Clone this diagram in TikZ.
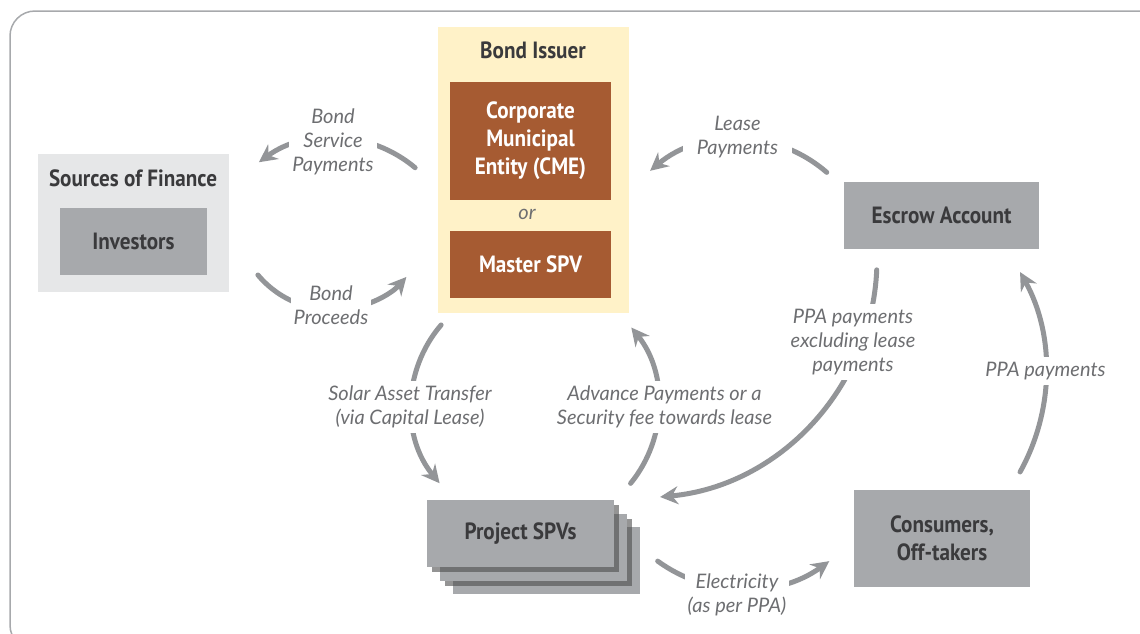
\documentclass[tikz,border=0pt]{standalone}
\usepackage{fontspec}
\setmainfont{Lato}
\newfontfamily\headfont[FakeStretch=0.9]{PT Sans}
\usetikzlibrary{arrows.meta,shadows}
\definecolor{framegray}{HTML}{A7A9AC}
\definecolor{lightbox}{HTML}{E6E7E8}
\definecolor{midbox}{HTML}{A7A9AC}
\definecolor{darktext}{HTML}{3A3A3C}
\definecolor{issuerfill}{HTML}{FFF2C8}
\definecolor{cmebrown}{HTML}{A65B32}
\definecolor{arrowgray}{HTML}{939598}
\definecolor{labelgray}{HTML}{6D6E71}
\begin{document}
\begin{tikzpicture}[x=1pt,y=1pt,
  headtxt/.style={text=darktext,font=\headfont\bfseries\fontsize{23.5}{28}\selectfont,align=center},
  box/.style={headtxt,fill=midbox,inner sep=0pt},
  entity/.style={box,fill=cmebrown,text=white},
  spvshadow/.style={drop shadow={shadow xshift=5pt,shadow yshift=-5pt,fill=black!70,opacity=0.6}},
  lbl/.style={fill=white,inner xsep=3pt,inner ysep=5pt,text=labelgray,font=\itshape\fontsize{20}{24}\selectfont,align=center},
  flow/.style={draw=arrowgray,line width=5pt,line cap=round,-{Stealth[length=18pt,width=18pt,inset=6pt]}}]
\useasboundingbox (0,0) rectangle (1140,-633);
\clip (0,0) rectangle (1140,-633);
\draw[framegray,line width=1.5pt,rounded corners=25pt] (10,-11) rectangle (1165,-650);
% boxes
\node[fill=lightbox,minimum width=191pt,minimum height=138pt] (finance) at (133.5,-223) {};
\node[headtxt] (financetitle) at (133,-178) {Sources of Finance};
\node[box,minimum width=147pt,minimum height=67pt] (investors) at (133.5,-241.5) {Investors};
\node[fill=issuerfill,minimum width=191pt,minimum height=286pt] (issuer) at (533.5,-170) {};
\node[headtxt] (issuertitle) at (533,-50) {Bond Issuer};
\node[entity,minimum width=161pt,minimum height=118pt] (cme) at (530.5,-141) {Corporate\\Municipal\\Entity (CME)};
\node[text=labelgray,font=\itshape\fontsize{20}{24}\selectfont] (or) at (527,-214) {or};
\node[entity,minimum width=161pt,minimum height=67pt] (master) at (530.5,-264.5) {Master SPV};
\node[box,minimum width=195pt,minimum height=67pt] (escrow) at (941.5,-215.5) {Escrow Account};
\node[box,minimum width=187pt,minimum height=67pt] (spvback) at (546.5,-560.5) {};
\node[box,spvshadow,minimum width=187pt,minimum height=67pt] (spvmid) at (533.5,-547) {};
\node[box,spvshadow,minimum width=187pt,minimum height=67pt] (spv) at (520.5,-533.5) {Project SPVs};
\node[box,minimum width=176pt,minimum height=97pt] (consumers) at (942,-538.5) {Consumers,\\Off-takers};
% arc centres
\coordinate (cbsp) at (333.5,-265);
\coordinate (cbpr) at (333,-212);
\coordinate (clease) at (737.5,-275);
\coordinate (cspv) at (534.5,-405);
\coordinate (cppaex) at (638,-259);
\coordinate (cppa) at (840.5,-372);
\coordinate (celec) at (743.5,-443);
\foreach \c/\r/\a/\b in {cbsp/127/50/126,cbpr/98/220/318.5,clease/136/49/130,cspv/123/139.4/219.5,cspv/124/-39.2/38.7,cppaex/239/-2.6/-84.7,cppa/205.5/-29.1/29.1,celec/146/234/306}
  {\draw[flow] (\c) ++(\a:\r) arc[start angle=\a,end angle=\b,radius=\r];}
% labels
\node[lbl] (bsp) at (333,-142) {Bond\\Service\\Payments};
\node[lbl] (bpr) at (331,-305.5) {Bond\\Proceeds};
\node[lbl,inner xsep=14pt] (lease) at (737.5,-137) {Lease\\Payments};
\node[lbl] (solar) at (410,-407) {Solar Asset Transfer\\(via Capital Lease)};
\node[lbl] (adv) at (664.5,-407) {Advance Payments or a\\Security fee towards lease};
\node[lbl] (ppaex) at (853,-342) {PPA payments\\excluding lease\\payments};
\node[lbl] (ppa) at (1045.5,-371) {PPA payments};
\node[lbl] (elec) at (737,-595) {Electricity\\(as per PPA)};
\end{tikzpicture}
\end{document}
